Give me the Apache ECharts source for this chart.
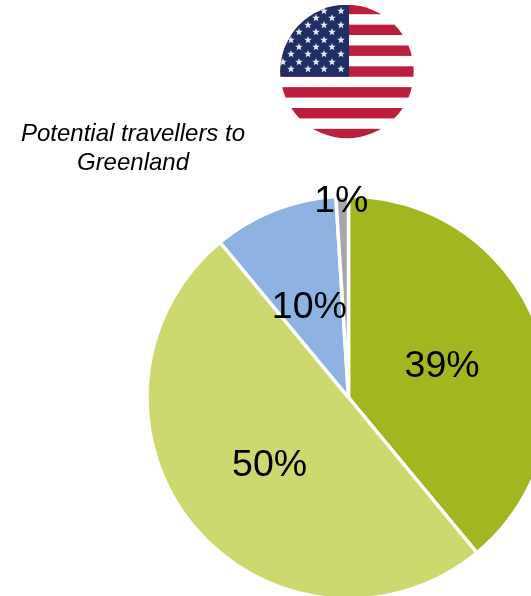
<!DOCTYPE html>
<html>
<head>
<meta charset="utf-8">
<style>html,body{margin:0;padding:0;background:#fff}#chart{width:531px;height:596px}</style>
<script src="https://cdn.jsdelivr.net/npm/echarts@6/dist/echarts.min.js"></script>
</head>
<body>
<div id="chart"></div>
<script>
// Share of potential travellers, clockwise from twelve o'clock
const shareValues = [39, 50, 10, 1];
const shareColors = ['#a2b61f', '#cdd96e', '#8db3e2', '#a6a6a6'];
const shareLabels = ['39%', '50%', '10%', '1%'];
const titleLines = ['Potential travellers to', 'Greenland'];

// Stars of the round flag badge: row height and column offsets in the 155x145 badge box
const starRows = [
  [11, [71, 54]],
  [18, [62, 46]],
  [25, [71, 54, 38]],
  [32, [62, 46, 29]],
  [40, [71, 54, 38, 21]],
  [47, [62, 46, 29]],
  [54, [71, 54, 38, 21]],
  [62, [62, 46, 29, 13]],
  [69, [71, 54, 38, 21]]
];

function starPoints(cx, cy, r) {
  const pts = [];
  for (let i = 0; i < 10; i++) {
    const a = -Math.PI / 2 + i * Math.PI / 5;
    const rr = i % 2 ? r * 0.42 : r;
    pts.push((cx + rr * Math.cos(a)).toFixed(2) + ',' + (cy + rr * Math.sin(a)).toFixed(2));
  }
  return pts.join(' ');
}

function flagSvg() {
  let s = '<svg xmlns="http://www.w3.org/2000/svg" width="135" height="135" viewBox="10 5 135 135">';
  s += '<defs><clipPath id="c"><circle cx="77" cy="71.5" r="66.7"/></clipPath></defs><g clip-path="url(#c)">';
  s += '<rect x="0" y="0" width="155" height="145" fill="#ffffff"/>';
  for (let i = 0; i < 7; i++) {
    s += '<rect x="0" y="' + (3.8 + i * 2 * 10.42).toFixed(2) + '" width="155" height="10.42" fill="#bb1f3c"/>';
  }
  s += '<rect x="0" y="0" width="79" height="76.7" fill="#1f2f66"/>';
  starRows.forEach(function (row) {
    row[1].forEach(function (x) {
      s += '<polygon points="' + starPoints(x, row[0], 4) + '" fill="#e6e9f2"/>';
    });
  });
  s += '</g></svg>';
  return 'data:image/svg+xml;charset=utf-8,' + encodeURIComponent(s);
}

// Label nudges, in the same order as the slices
const labelOffsets = [[-4, 4], [1, 2], [-1, 7], [-4, -92]];

const chart = echarts.init(document.getElementById('chart'), null, { renderer: 'canvas' });
chart.setOption({
  animation: false,
  backgroundColor: '#ffffff',
  graphic: [{
    type: 'image',
    left: 280,
    top: 5,
    style: { image: flagSvg(), width: 135, height: 135 }
  }],
  title: {
    text: titleLines.join('\n'),
    left: 128,
    top: 115,
    textAlign: 'center',
    textStyle: {
      fontFamily: 'Liberation Sans',
      fontSize: 24,
      fontStyle: 'italic',
      fontWeight: 'normal',
      color: '#000000',
      lineHeight: 29
    }
  },
  series: [{
    type: 'pie',
    center: [348.5, 397.5],
    radius: [0, 201.5],
    startAngle: 90,
    clockwise: true,
    silent: true,
    labelLine: { show: false },
    itemStyle: { borderColor: '#ffffff', borderWidth: 3.5 },
    label: {
      show: true,
      position: 'inside',
      fontFamily: 'Liberation Sans',
      fontSize: 37.5,
      color: '#000000',
      formatter: function (p) { return shareLabels[p.dataIndex]; }
    },
    data: shareValues.map(function (v, i) {
      return {
        value: v,
        itemStyle: { color: shareColors[i] },
        label: { offset: labelOffsets[i] }
      };
    })
  }]
});
</script>
</body>
</html>
